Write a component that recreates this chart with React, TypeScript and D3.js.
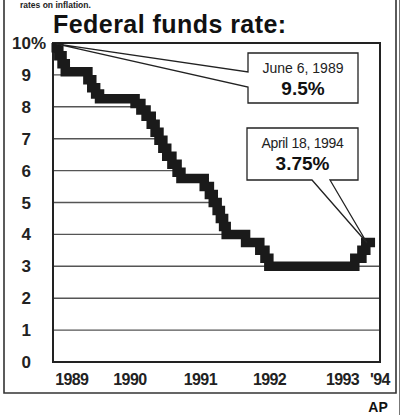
import React from "react";
import * as d3 from "d3";

// ---- data ----
const stepDates = [
  1989.43, 1989.47, 1989.52, 1989.57, 1989.92, 1989.98, 1990.04, 1990.10,
  1990.65, 1990.74, 1990.82, 1990.90, 1990.96, 1991.02, 1991.08, 1991.14,
  1991.22, 1991.30, 1991.36, 1991.72, 1991.80, 1991.86, 1991.92, 1991.97,
  1992.02, 1992.06, 1992.36, 1992.58, 1992.66, 1992.72, 1994.05, 1994.16,
  1994.22, 1994.29,
];
const stepRates = [
  9.85, 9.6, 9.35, 9.1, 8.85, 8.6, 8.4, 8.25,
  8.1, 7.9, 7.7, 7.45, 7.2, 6.95, 6.7, 6.45,
  6.2, 5.95, 5.75, 5.5, 5.25, 5.0, 4.75, 4.5,
  4.25, 4.0, 3.75, 3.5, 3.25, 3.0, 3.25, 3.5,
  3.75, 3.75,
];
const yTicks = [0, 1, 2, 3, 4, 5, 6, 7, 8, 9, 10];
const xTickLabels = ["1989", "1990", "1991", "1992", "1993", "'94"];
const xTickAt = [1989.67, 1990.57, 1991.66, 1992.73, 1993.86, 1994.44];
const xDomain = [1989.38, 1994.44];
const annDates = [1989.43, 1994.24];
const annRates = [9.97, 3.73];
const annDateText = ["June 6, 1989", "April 18, 1994"];
const annValueText = ["9.5%", "3.75%"];
const titleText = "Federal funds rate:";
const topText = "rates on inflation.";
const sourceText = "AP";

const FONT = "'Liberation Sans', Arial, Helvetica, sans-serif";

export default function App() {
  const W = 401;
  const H = 415;
  const left = 53;
  const right = 380;
  const top = 43;
  const bottom = 362;

  const x = d3.scaleLinear().domain(xDomain).range([left, right]);
  const y = d3.scaleLinear().domain([0, 10]).range([bottom, top]);

  const pts = stepDates.map((d, i) => [d, stepRates[i]] as [number, number]);
  const line = d3
    .line<[number, number]>()
    .x((d) => x(d[0]))
    .y((d) => y(d[1]))
    .curve(d3.curveStepAfter);

  const areaPts: [number, number][] = [
    [xDomain[0], stepRates[0]],
    ...pts,
    [xDomain[1], stepRates[stepRates.length - 1]],
  ];
  const area = d3
    .area<[number, number]>()
    .x((d) => x(d[0]))
    .y0(bottom)
    .y1((d) => y(d[1]))
    .curve(d3.curveStepAfter);

  // callout boxes (layout)
  const box1 = { x0: 248, y0: 53, x1: 358, y1: 103, g0: 72, g1: 87 };
  const box2 = { x0: 247, y0: 128, x1: 358, y1: 180, g0: 312, g1: 330 };
  const t1 = [x(annDates[0]), y(annRates[0])];
  const t2 = [x(annDates[1]), y(annRates[1])];

  const bubble1 = `M${box1.x0},${box1.y0}H${box1.x1}V${box1.y1}H${box1.x0}V${box1.g1}L${t1[0]},${t1[1]}L${box1.x0},${box1.g0}Z`;
  const bubble2 = `M${box2.x0},${box2.y0}H${box2.x1}V${box2.y1}H${box2.g1}L${t2[0]},${t2[1]}L${box2.g0},${box2.y1}H${box2.x0}Z`;

  return (
    <svg
      width={W}
      height={H}
      style={{ position: "absolute", left: 0, top: 0, background: "#fff" }}
      fontFamily={FONT}
    >
      <defs>
        <clipPath id="under">
          <path d={area(areaPts) || ""} />
        </clipPath>
      </defs>

      {/* outer frame */}
      <path d={`M4,-5V393H396V-5`} fill="none" stroke="#333" strokeWidth={1.6} />
      <line x1={399.5} x2={399.5} y1={0} y2={H} stroke="#777" strokeWidth={1} />

      {/* top text */}
      <text x={20} y={7.5} fontSize={8.5} fontWeight="bold" fill="#222">
        {topText}
      </text>

      {/* title */}
      <text x={53} y={33} fontSize={25} fontWeight="bold" fill="#111" letterSpacing={0.45}>
        {titleText}
      </text>

      {/* gridlines under the curve */}
      <g clipPath="url(#under)">
        {yTicks
          .filter((t) => t > 0 && t < 10)
          .map((t) => (
            <line
              key={t}
              x1={left}
              x2={right}
              y1={y(t)}
              y2={y(t)}
              stroke="#555"
              strokeWidth={1.4}
            />
          ))}
      </g>

      {/* plot frame */}
      <rect
        x={left}
        y={top}
        width={right - left}
        height={bottom - top}
        fill="none"
        stroke="#222"
        strokeWidth={2}
      />

      {/* y tick labels */}
      {yTicks.map((t) => (
        <g key={t}>
          <text
            x={31}
            y={y(t) + 6}
            fontSize={17}
            fontWeight="bold"
            textAnchor="end"
            fill="#222"
          >
            {t}
          </text>
          {t === 10 && (
            <text x={31} y={y(t) + 6} fontSize={17} fontWeight="bold" fill="#222">
              %
            </text>
          )}
        </g>
      ))}

      {/* x tick labels */}
      {xTickLabels.map((lab, i) => (
        <text
          key={lab}
          x={x(xTickAt[i])}
          y={385}
          fontSize={16}
          fontWeight="bold"
          textAnchor="middle"
          fill="#222"
          letterSpacing={-0.6}
        >
          {lab}
        </text>
      ))}

      {/* rate line */}
      <path
        d={line(pts) || ""}
        fill="none"
        stroke="#1a1a1a"
        strokeWidth={9.5}
        strokeLinejoin="miter"
        strokeLinecap="square"
      />

      {/* callouts */}
      <path d={bubble1} fill="#fff" stroke="#222" strokeWidth={1.3} />
      <text x={(box1.x0 + box1.x1) / 2} y={73} fontSize={14} textAnchor="middle" fill="#222">
        {annDateText[0]}
      </text>
      <text
        x={(box1.x0 + box1.x1) / 2}
        y={95}
        fontSize={19}
        fontWeight="bold"
        textAnchor="middle"
        fill="#111"
      >
        {annValueText[0]}
      </text>

      <path d={bubble2} fill="#fff" stroke="#222" strokeWidth={1.3} />
      <text
        x={(box2.x0 + box2.x1) / 2}
        y={148}
        fontSize={14}
        textAnchor="middle"
        fill="#222"
        letterSpacing={-0.3}
      >
        {annDateText[1]}
      </text>
      <text
        x={(box2.x0 + box2.x1) / 2}
        y={170}
        fontSize={19}
        fontWeight="bold"
        textAnchor="middle"
        fill="#111"
      >
        {annValueText[1]}
      </text>

      {/* source */}
      <text x={378} y={412} fontSize={14} fontWeight="bold" textAnchor="middle" fill="#111">
        {sourceText}
      </text>
    </svg>
  );
}
